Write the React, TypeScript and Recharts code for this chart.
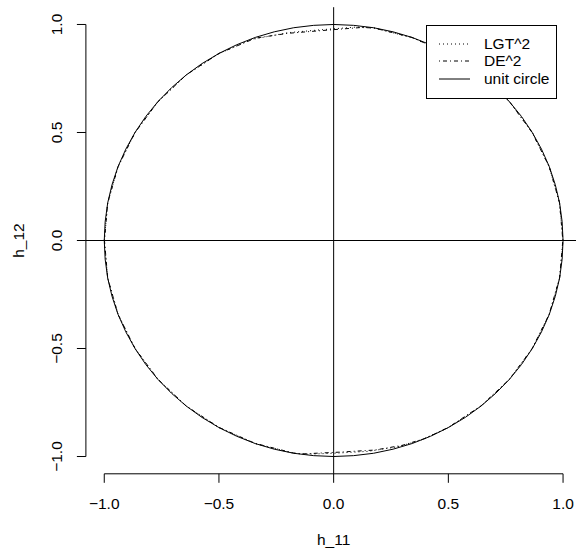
import React from 'react'
import {
  ScatterChart,
  Scatter,
  XAxis,
  YAxis,
  ReferenceLine,
  Legend,
} from 'recharts'

// unit circle, every 5 degrees
const circleX = [
  1, 0.996, 0.985, 0.966, 0.94, 0.906, 0.866, 0.819, 0.766, 0.707, 0.643, 0.574, 0.5, 0.423, 0.342, 0.259, 0.174, 0.087, 0,
  -0.087, -0.174, -0.259, -0.342, -0.423, -0.5, -0.574, -0.643, -0.707, -0.766, -0.819, -0.866, -0.906, -0.94, -0.966, -0.985, -0.996, -1,
  -0.996, -0.985, -0.966, -0.94, -0.906, -0.866, -0.819, -0.766, -0.707, -0.643, -0.574, -0.5, -0.423, -0.342, -0.259, -0.174, -0.087, 0,
  0.087, 0.174, 0.259, 0.342, 0.423, 0.5, 0.574, 0.643, 0.707, 0.766, 0.819, 0.866, 0.906, 0.94, 0.966, 0.985, 0.996, 1,
]
const circleY = [
  0, 0.087, 0.174, 0.259, 0.342, 0.423, 0.5, 0.574, 0.643, 0.707, 0.766, 0.819, 0.866, 0.906, 0.94, 0.966, 0.985, 0.996, 1,
  0.996, 0.985, 0.966, 0.94, 0.906, 0.866, 0.819, 0.766, 0.707, 0.643, 0.574, 0.5, 0.423, 0.342, 0.259, 0.174, 0.087, 0,
  -0.087, -0.174, -0.259, -0.342, -0.423, -0.5, -0.574, -0.643, -0.707, -0.766, -0.819, -0.866, -0.906, -0.94, -0.966, -0.985, -0.996, -1,
  -0.996, -0.985, -0.966, -0.94, -0.906, -0.866, -0.819, -0.766, -0.707, -0.643, -0.574, -0.5, -0.423, -0.342, -0.259, -0.174, -0.087, 0,
]

// LGT^2 estimate
const lgtX = [
  1, 0.984, 0.939, 0.867, 0.765, 0.644, 0.501, 0.343, 0.174, 0.1, -0.05, -0.2, -0.36,
  -0.5, -0.643, -0.766, -0.866, -0.94, -0.985, -1, -0.985, -0.939, -0.866, -0.766, -0.643, -0.5, -0.342, -0.174,
  -0.12, 0, 0.15, 0.28, 0.38, 0.5, 0.643, 0.766, 0.866, 0.94, 0.985, 1,
]
const lgtY = [
  0, 0.176, 0.343, 0.498, 0.644, 0.765, 0.865, 0.939, 0.984, 0.988, 0.976, 0.962, 0.93,
  0.865, 0.766, 0.642, 0.5, 0.342, 0.173, 0, -0.174, -0.343, -0.5, -0.643, -0.766, -0.866, -0.94, -0.985,
  -0.989, -0.985, -0.976, -0.955, -0.924, -0.866, -0.766, -0.643, -0.5, -0.342, -0.174, 0,
]

// DE^2 estimate
const deX = [
  0.999, 0.985, 0.94, 0.865, 0.767, 0.642, 0.5, 0.341, 0.175, 0.12, -0.05, -0.2, -0.34,
  -0.5, -0.642, -0.767, -0.866, -0.94, -0.985, -0.999, -0.985, -0.94, -0.865, -0.766, -0.642, -0.5, -0.343, -0.174,
  -0.14, 0.02, 0.18, 0.3, 0.4, 0.5, 0.642, 0.767, 0.866, 0.939, 0.985, 0.999,
]
const deY = [
  0, 0.173, 0.341, 0.5, 0.642, 0.767, 0.866, 0.94, 0.984, 0.986, 0.972, 0.959, 0.937,
  0.866, 0.767, 0.641, 0.499, 0.341, 0.174, 0, -0.173, -0.342, -0.501, -0.642, -0.767, -0.865, -0.939, -0.984,
  -0.988, -0.98, -0.97, -0.948, -0.916, -0.865, -0.766, -0.642, -0.499, -0.343, -0.173, 0,
]

const axisTicks = [-1, -0.5, 0, 0.5, 1]
const legendLabels = ['LGT^2', 'DE^2', 'unit circle']
const legendDash = ['1 3', '1 3 4 3', undefined]

const FONT = '"Liberation Sans", Arial, Helvetica, sans-serif'

const toPoints = (xs: number[], ys: number[]) => xs.map((x, i) => ({ x, y: ys[i] }))
const fmt = (v: number) => v.toFixed(1).replace('-', '\u2212')

function XTick(props: any) {
  const { x, payload } = props
  return (
    <text x={x} y={508.5} textAnchor="middle" fontFamily={FONT} fontSize={15.5} fill="#000">
      {fmt(payload.value)}
    </text>
  )
}

function YTick(props: any) {
  const { y, payload } = props
  return (
    <text
      x={62}
      y={y}
      transform={`rotate(-90 62 ${y})`}
      textAnchor="middle"
      fontFamily={FONT}
      fontSize={15.5}
      fill="#000"
    >
      {fmt(payload.value)}
    </text>
  )
}

function LegendBox() {
  const rows = [19, 36.5, 54.5]
  return (
    <div
      style={{
        boxSizing: 'border-box',
        width: 131,
        height: 74,
        border: '1px solid #000',
        background: '#fff',
        position: 'relative',
        fontFamily: FONT,
        fontSize: 15.5,
        color: '#000',
      }}
    >
      {legendLabels.map((label, i) => (
        <React.Fragment key={label}>
          <svg
            width={31}
            height={10}
            style={{ position: 'absolute', left: 12.4, top: rows[i] - 1 - 5 }}
          >
            <line x1={0} x2={31} y1={5} y2={5} stroke="#000" strokeWidth={1} strokeDasharray={legendDash[i]} />
          </svg>
          <span
            style={{
              position: 'absolute',
              left: 57.4,
              top: rows[i] - 1 - 9,
              lineHeight: '18px',
              whiteSpace: 'nowrap',
            }}
          >
            {label}
          </span>
        </React.Fragment>
      ))}
    </div>
  )
}

export default function App() {
  return (
    <div
      style={{
        position: 'absolute',
        left: 0,
        top: 0,
        width: 576,
        height: 552,
        overflow: 'hidden',
        background: '#fff',
      }}
    >
      <ScatterChart
        width={582}
        height={552}
        margin={{ top: 7.2, right: 0.6, left: 25.9, bottom: 28.2 }}
      >
        <XAxis
          type="number"
          dataKey="x"
          domain={[-1.08, 1.08]}
          ticks={axisTicks}
          interval={0}
          allowDataOverflow
          axisLine={false}
          tickLine={{ stroke: '#000' }}
          tickSize={9}
          height={50}
          tick={<XTick />}
          label={{
            value: 'h_11',
            content: () => (
              <text x={333.6} y={544.5} textAnchor="middle" fontFamily={FONT} fontSize={15.5} fill="#000">
                h_11
              </text>
            ),
          }}
        />
        <YAxis
          type="number"
          dataKey="y"
          domain={[-1.08, 1.08]}
          ticks={axisTicks}
          interval={0}
          allowDataOverflow
          axisLine={false}
          tickLine={{ stroke: '#000' }}
          tickSize={9}
          width={60}
          tick={<YTick />}
          label={{
            value: 'h_12',
            content: () => (
              <text
                x={24}
                y={240.5}
                transform="rotate(-90 24 240.5)"
                textAnchor="middle"
                fontFamily={FONT}
                fontSize={15.5}
                fill="#000"
              >
                h_12
              </text>
            ),
          }}
        />
        <ReferenceLine
          segment={[{ x: -1, y: -1.08 }, { x: 1, y: -1.08 }]}
          stroke="#000"
          strokeWidth={1}
          ifOverflow="visible"
        />
        <ReferenceLine
          segment={[{ x: -1.08, y: -1 }, { x: -1.08, y: 1 }]}
          stroke="#000"
          strokeWidth={1}
          ifOverflow="visible"
        />
        <ReferenceLine x={0} stroke="#000" strokeWidth={1} />
        <ReferenceLine y={0} stroke="#000" strokeWidth={1} />
        <Scatter
          name="LGT^2"
          data={toPoints(lgtX, lgtY)}
          line={{ stroke: '#000', strokeWidth: 1, strokeDasharray: '1 3' }}
          shape={() => <g />}
          isAnimationActive={false}
        />
        <Scatter
          name="DE^2"
          data={toPoints(deX, deY)}
          line={{ stroke: '#000', strokeWidth: 1, strokeDasharray: '1 3 4 3' }}
          shape={() => <g />}
          isAnimationActive={false}
        />
        <Scatter
          name="unit circle"
          data={toPoints(circleX, circleY)}
          line={{ stroke: '#000', strokeWidth: 1 }}
          shape={() => <g />}
          isAnimationActive={false}
        />
        <Legend
          layout="vertical"
          align="center"
          verticalAlign="middle"
          wrapperStyle={{ position: 'absolute', left: 425.6, top: 24.5, width: 131, height: 74 }}
          content={() => <LegendBox />}
        />
      </ScatterChart>
    </div>
  )
}
